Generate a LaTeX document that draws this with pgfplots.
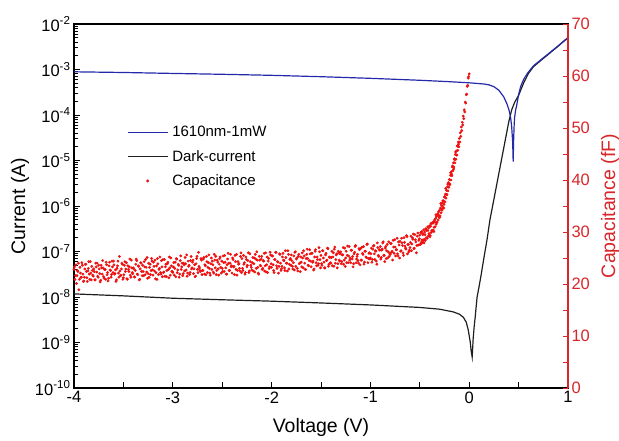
\documentclass[border=0pt]{standalone}
\usepackage{fontspec}
\setmainfont{Liberation Sans}
\usepackage{pgfplots}
\pgfplotsset{compat=1.18}
\definecolor{ivblue}{HTML}{2329A8}
\definecolor{ivdark}{HTML}{1E1E1E}
\definecolor{capred}{HTML}{EE1111}
\definecolor{axred}{HTML}{D8262A}

\begin{document}
\begin{tikzpicture}
\begin{axis}[name=ax,
  width=494pt, height=364pt, scale only axis,
  xmin=-4, xmax=1, ymode=log, ymin=1e-10, ymax=1e-2,
  xtick={-4,-3.5,...,1}, xticklabels={-4,,-3,,-2,,-1,,0,,1},
  ytick={1e-10,1e-9,1e-8,1e-7,1e-6,1e-5,1e-4,1e-3,1e-2},
  yticklabels={10\textsuperscript{-10},10\textsuperscript{-9},10\textsuperscript{-8},10\textsuperscript{-7},
    10\textsuperscript{-6},10\textsuperscript{-5},10\textsuperscript{-4},10\textsuperscript{-3},10\textsuperscript{-2}},
  minor ytick={2e-10,3e-10,4e-10,5e-10,6e-10,7e-10,8e-10,9e-10,
    2e-9,3e-9,4e-9,5e-9,6e-9,7e-9,8e-9,9e-9,
    2e-8,3e-8,4e-8,5e-8,6e-8,7e-8,8e-8,9e-8,
    2e-7,3e-7,4e-7,5e-7,6e-7,7e-7,8e-7,9e-7,
    2e-6,3e-6,4e-6,5e-6,6e-6,7e-6,8e-6,9e-6,
    2e-5,3e-5,4e-5,5e-5,6e-5,7e-5,8e-5,9e-5,
    2e-4,3e-4,4e-4,5e-4,6e-4,7e-4,8e-4,9e-4,
    2e-3,3e-3,4e-3,5e-3,6e-3,7e-3,8e-3,9e-3},
  xtick pos=bottom, ytick pos=left, tick align=inside,
  major tick length=6pt, minor tick length=3.5pt,
  axis line style={line width=1.3pt},
  every tick/.style={black, line width=1pt},
  tick label style={font=\fontsize{16.5}{18}\selectfont},
  xlabel={Voltage (V)}, ylabel={Current (A)},
  every axis x label/.style={at={(axis description cs:0.5,-0.121)}, anchor=base,
    font=\fontsize{19.5}{22}\selectfont},
  every axis y label/.style={at={(axis description cs:-0.109,0.5)}, anchor=center, rotate=90,
    font=\fontsize{19.5}{22}\selectfont},
  legend image code/.code={\draw[#1] (0pt,0pt) -- (40pt,0pt); \path (43pt,0pt);},
  legend cell align=left,
  legend style={at={(axis description cs:0.107,0.722)}, anchor=north west,
    draw=none, fill=none, inner sep=0pt, row sep=10pt,
    font=\fontsize{15}{17}\selectfont, nodes={inner sep=1pt}},
]
\addlegendimage{ivblue, line width=1.2pt}
\addlegendentry{1610nm-1mW}
\addlegendimage{ivdark, line width=1.2pt}
\addlegendentry{Dark-current}
\addlegendimage{legend image code/.code={\fill[capred] (20pt,0pt) circle (1.3pt); \path (43pt,0pt);}}
\addlegendentry{Capacitance}

% dark current
\addplot[ivdark, line width=1.2pt, forget plot] coordinates {
(-4.0,1.17e-8)(-3.5,1.06e-8)(-3.0,9.4e-9)(-2.5,8.7e-9)(-2.0,8.1e-9)(-1.5,7.4e-9)
(-1.0,6.7e-9)(-0.5,5.9e-9)(-0.3,5.4e-9)(-0.16,4.7e-9)(-0.1,4.2e-9)(-0.06,3.6e-9)
(-0.03,2.8e-9)(-0.01,1.9e-9)(0.01,1.05e-9)(0.02,6.5e-10)(0.03,4.8e-10)(0.04,1.2e-9)
(0.05,2.2e-9)(0.06,3.5e-9)(0.07,6e-9)(0.08,1e-8)(0.10,1.7e-8)(0.12,3e-8)(0.15,7.5e-8)
(0.18,1.8e-7)(0.21,5e-7)(0.25,1.4e-6)(0.30,5.2e-6)(0.35,1.9e-5)(0.40,7e-5)(0.43,1.3e-4)
(0.46,1.9e-4)(0.50,2.7e-4)(0.55,5e-4)(0.60,8.2e-4)(0.65,1.15e-3)(0.72,1.55e-3)
(0.80,2.15e-3)(0.85,2.65e-3)(0.90,3.25e-3)(0.95,4.05e-3)(1.0,4.95e-3)
};
% 1610 nm, 1 mW
\addplot[ivblue, line width=1.2pt, forget plot] coordinates {
(-4.0,8.9e-4)(-3.5,8.6e-4)(-3.0,8.2e-4)(-2.5,7.85e-4)(-2.0,7.45e-4)(-1.5,6.95e-4)
(-1.0,6.4e-4)(-0.5,5.8e-4)(-0.2,5.4e-4)(0.0,5.1e-4)(0.1,4.9e-4)(0.15,4.8e-4)(0.2,4.6e-4)
(0.25,4.2e-4)(0.3,3.5e-4)(0.35,2.5e-4)(0.38,1.8e-4)(0.40,1.35e-4)(0.41,1.1e-4)
(0.42,8.5e-5)(0.43,5.5e-5)(0.44,2.5e-5)(0.445,9.5e-6)(0.45,3e-5)(0.455,6e-5)(0.46,9e-5)
(0.47,1.3e-4)(0.48,1.6e-4)(0.50,2.8e-4)(0.52,4.2e-4)(0.55,6e-4)(0.59,8.3e-4)
(0.65,1.2e-3)(0.72,1.6e-3)(0.80,2.2e-3)(0.85,2.7e-3)(0.90,3.3e-3)(0.95,4.1e-3)(1.0,5.0e-3)
};
\end{axis}

\begin{axis}[
  width=494pt, height=364pt, scale only axis,
  xmin=-4, xmax=1, ymin=0, ymax=70,
  axis x line=none, axis y line*=right,
  ytick={0,5,...,70}, yticklabels={0,,10,,20,,30,,40,,50,,60,,70},
  tick align=inside, major tick length=5pt,
  y axis line style={axred, line width=1.3pt, -},
  every tick/.style={axred, line width=1pt},
  yticklabel style={axred, font=\fontsize{16.5}{18}\selectfont},
  ylabel={Capacitance (fF)},
  every axis y label/.style={at={(axis description cs:1.085,0.5)}, anchor=center, rotate=90,
    axred, font=\fontsize{19.5}{22}\selectfont},
]
% capacitance, first sweep of readings
\addplot[capred, only marks, mark=*, mark size=1.2pt, mark options={solid, draw=none, fill=capred}] coordinates {
(-4.00,22.8)(-3.99,20.9)(-3.98,23.7)(-3.97,21.6)(-3.96,22.4)(-3.95,18.9)(-3.94,23.2)(-3.93,21.3)(-3.92,24.1)(-3.91,21.9)
(-3.90,20.6)(-3.89,22.9)(-3.88,23.8)(-3.87,21.2)(-3.86,22.5)(-3.85,24.3)(-3.84,20.9)(-3.83,22.1)(-3.82,23.4)(-3.81,21.7)
(-3.80,22.9)(-3.79,20.8)(-3.78,24.0)(-3.77,22.3)(-3.76,21.5)(-3.75,23.6)(-3.74,22.0)(-3.73,20.7)(-3.72,23.1)(-3.71,24.5)
(-3.70,21.4)(-3.69,22.8)(-3.68,20.9)(-3.67,23.7)(-3.66,22.2)(-3.65,21.1)(-3.64,24.2)(-3.63,22.6)(-3.62,21.8)(-3.61,23.3)
(-3.60,24.4)(-3.59,21.9)(-3.58,22.7)(-3.57,20.8)(-3.56,23.5)(-3.55,22.1)(-3.54,25.3)(-3.53,21.6)(-3.52,22.9)(-3.51,23.8)
(-3.50,21.2)(-3.49,23.6)(-3.48,22.4)(-3.47,24.1)(-3.46,20.9)(-3.45,22.8)(-3.44,23.3)(-3.43,21.7)(-3.42,24.6)(-3.41,22.2)
(-3.40,23.1)(-3.39,21.4)(-3.38,22.6)(-3.37,24.8)(-3.36,21.9)(-3.35,23.5)(-3.34,20.8)(-3.33,22.9)(-3.32,24.0)(-3.31,21.6)
(-3.30,22.4)(-3.29,24.3)(-3.28,21.8)(-3.27,23.2)(-3.26,25.1)(-3.25,22.0)(-3.24,21.3)(-3.23,23.8)(-3.22,22.6)(-3.21,24.4)
(-3.20,21.7)(-3.19,23.4)(-3.18,24.6)(-3.17,22.2)(-3.16,20.9)(-3.15,23.9)(-3.14,22.8)(-3.13,25.2)(-3.12,21.9)(-3.11,23.3)
(-3.10,24.7)(-3.09,22.3)(-3.08,21.5)(-3.07,23.8)(-3.06,22.6)(-3.05,24.2)(-3.04,21.2)(-3.03,23.1)(-3.02,25.0)(-3.01,22.4)
(-3.00,22.2)(-2.99,24.1)(-2.98,23.0)(-2.97,21.4)(-2.96,24.8)(-2.95,22.7)(-2.94,23.6)(-2.93,21.9)(-2.92,25.4)(-2.91,23.3)
(-2.90,21.6)(-2.89,24.0)(-2.88,22.5)(-2.87,23.9)(-2.86,25.6)(-2.85,22.1)(-2.84,23.4)(-2.83,21.8)(-2.82,24.5)(-2.81,22.9)
(-2.80,24.2)(-2.79,22.0)(-2.78,23.7)(-2.77,21.5)(-2.76,24.9)(-2.75,22.8)(-2.74,26.1)(-2.73,23.1)(-2.72,22.4)(-2.71,24.6)
(-2.70,22.6)(-2.69,24.8)(-2.68,21.9)(-2.67,23.5)(-2.66,25.3)(-2.65,22.2)(-2.64,24.1)(-2.63,23.0)(-2.62,21.7)(-2.61,25.0)
(-2.60,24.4)(-2.59,22.3)(-2.58,25.7)(-2.57,23.1)(-2.56,21.8)(-2.55,24.6)(-2.54,22.9)(-2.53,23.8)(-2.52,25.2)(-2.51,22.1)
(-2.50,23.0)(-2.49,25.4)(-2.48,22.4)(-2.47,24.2)(-2.46,21.9)(-2.45,23.7)(-2.44,25.9)(-2.43,22.6)(-2.42,24.0)(-2.41,23.3)
(-2.40,22.1)(-2.39,24.7)(-2.38,23.4)(-2.37,25.5)(-2.36,22.8)(-2.35,21.7)(-2.34,24.3)(-2.33,23.9)(-2.32,22.5)(-2.31,26.0)
(-2.30,24.9)(-2.29,22.6)(-2.28,23.8)(-2.27,21.9)(-2.26,25.2)(-2.25,23.3)(-2.24,24.5)(-2.23,22.2)(-2.22,25.8)(-2.21,23.6)
(-2.20,22.7)(-2.19,25.1)(-2.18,23.9)(-2.17,22.3)(-2.16,24.8)(-2.15,26.2)(-2.14,23.2)(-2.13,21.9)(-2.12,24.6)(-2.11,23.5)
(-2.10,25.3)(-2.09,23.0)(-2.08,24.4)(-2.07,22.5)(-2.06,26.0)(-2.05,23.7)(-2.04,22.2)(-2.03,24.9)(-2.02,23.3)(-2.01,25.6)
(-2.00,23.2)(-1.99,25.4)(-1.98,22.6)(-1.97,24.7)(-1.96,26.1)(-1.95,23.5)(-1.94,24.3)(-1.93,22.1)(-1.92,25.8)(-1.91,24.0)
(-1.90,22.9)(-1.89,25.2)(-1.88,24.6)(-1.87,23.1)(-1.86,26.4)(-1.85,24.0)(-1.84,22.5)(-1.83,25.7)(-1.82,23.8)(-1.81,24.9)
(-1.80,25.6)(-1.79,23.4)(-1.78,24.1)(-1.77,22.7)(-1.76,26.2)(-1.75,24.8)(-1.74,23.0)(-1.73,25.3)(-1.72,23.9)(-1.71,22.4)
(-1.70,24.2)(-1.69,26.0)(-1.68,23.1)(-1.67,25.4)(-1.66,22.8)(-1.65,24.9)(-1.64,26.7)(-1.63,23.6)(-1.62,24.5)(-1.61,25.8)
(-1.60,23.3)(-1.59,25.9)(-1.58,24.4)(-1.57,22.9)(-1.56,26.3)(-1.55,24.1)(-1.54,25.2)(-1.53,23.6)(-1.52,27.0)(-1.51,24.7)
(-1.50,25.5)(-1.49,23.6)(-1.48,26.4)(-1.47,24.2)(-1.46,23.1)(-1.45,25.9)(-1.44,24.6)(-1.43,26.8)(-1.42,23.8)(-1.41,25.1)
(-1.40,24.0)(-1.39,26.3)(-1.38,25.2)(-1.37,23.4)(-1.36,27.1)(-1.35,24.7)(-1.34,25.8)(-1.33,23.9)(-1.32,26.0)(-1.31,24.4)
(-1.30,26.2)(-1.29,24.3)(-1.28,25.6)(-1.27,23.8)(-1.26,26.9)(-1.25,25.0)(-1.24,24.1)(-1.23,27.3)(-1.22,25.4)(-1.21,24.6)
(-1.20,24.1)(-1.19,26.5)(-1.18,25.3)(-1.17,23.9)(-1.16,26.1)(-1.15,27.4)(-1.14,24.8)(-1.13,25.7)(-1.12,24.0)(-1.11,26.6)
(-1.10,26.8)(-1.09,24.6)(-1.08,25.9)(-1.07,27.2)(-1.06,24.2)(-1.05,26.3)(-1.04,25.1)(-1.03,27.7)(-1.02,24.9)(-1.01,26.0)
(-1.00,25.0)(-0.99,26.9)(-0.98,24.7)(-0.97,27.3)(-0.96,25.8)(-0.95,26.4)(-0.94,24.4)(-0.93,27.9)(-0.92,25.5)(-0.91,26.6)
(-0.90,27.2)(-0.89,25.1)(-0.88,26.7)(-0.87,28.1)(-0.86,25.5)(-0.85,26.9)(-0.84,24.9)(-0.83,27.6)(-0.82,26.2)(-0.81,25.3)
(-0.80,25.7)(-0.79,27.8)(-0.78,26.3)(-0.77,28.4)(-0.76,25.9)(-0.75,27.1)(-0.74,26.6)(-0.73,28.8)(-0.72,25.4)(-0.71,27.5)
(-0.70,28.2)(-0.69,26.4)(-0.68,27.9)(-0.67,26.0)(-0.66,28.9)(-0.65,27.3)(-0.64,26.7)(-0.63,29.1)(-0.62,27.6)(-0.61,26.2)
(-0.60,27.0)(-0.59,29.2)(-0.58,27.7)(-0.57,28.6)(-0.56,26.8)(-0.55,29.5)(-0.54,28.1)(-0.53,27.4)(-0.52,29.8)(-0.51,28.4)
(-0.500,29.4)(-0.495,27.6)(-0.490,29.9)(-0.485,28.0)(-0.480,30.1)(-0.475,27.9)(-0.470,29.5)(-0.465,28.3)(-0.460,30.4)(-0.455,28.6)
(-0.450,30.0)(-0.445,28.4)(-0.440,30.6)(-0.435,28.9)(-0.430,30.3)(-0.425,28.8)(-0.420,31.0)(-0.415,29.2)(-0.410,30.8)(-0.405,29.4)
(-0.400,31.2)(-0.395,29.3)(-0.390,31.1)(-0.385,29.9)(-0.380,31.7)(-0.375,30.2)(-0.370,31.8)(-0.365,30.4)(-0.360,32.0)(-0.355,30.9)
(-0.350,32.3)(-0.345,31.0)(-0.340,32.6)(-0.335,31.5)(-0.330,33.0)(-0.325,31.9)(-0.320,33.4)(-0.315,32.3)(-0.310,33.9)(-0.305,32.8)
(-0.300,34.2)(-0.295,33.1)(-0.290,34.6)(-0.285,33.7)(-0.280,35.1)(-0.275,34.2)(-0.270,35.6)(-0.265,34.8)(-0.260,36.0)(-0.255,35.3)
(-0.250,36.7)(-0.245,35.8)(-0.240,37.3)(-0.235,36.5)(-0.230,38.0)(-0.225,37.2)(-0.220,38.7)(-0.215,37.9)(-0.210,39.5)(-0.205,38.6)
(-0.200,40.1)(-0.195,39.2)(-0.190,40.9)(-0.185,40.0)(-0.180,41.6)(-0.175,40.8)(-0.170,42.5)(-0.165,41.8)(-0.160,43.3)(-0.155,42.5)
(-0.150,44.1)(-0.145,43.3)(-0.140,44.9)(-0.135,44.0)(-0.130,45.6)(-0.125,44.8)(-0.120,46.5)(-0.115,45.7)(-0.110,47.3)(-0.105,46.4)
(-0.100,48.0)(-0.095,47.3)(-0.090,49.1)(-0.085,48.4)(-0.080,50.2)(-0.075,49.5)(-0.070,51.1)(-0.065,50.6)(-0.060,52.3)(-0.055,51.8)
(-0.050,53.5)(-0.045,53.1)(-0.040,55.0)(-0.035,54.8)(-0.030,56.4)(-0.025,56.5)(-0.020,58.0)(-0.015,58.2)(-0.010,59.6)(-0.005,59.9)
(0.000,60.4)
};
% capacitance, interleaved readings
\addplot[capred, only marks, mark=*, mark size=1.2pt, mark options={solid, draw=none, fill=capred}] coordinates {
(-3.995,23.3)(-3.985,21.6)(-3.975,20.1)(-3.965,22.6)(-3.955,24.0)(-3.945,20.9)(-3.935,22.1)(-3.925,21.3)(-3.915,23.6)(-3.905,20.5)
(-3.895,21.3)(-3.885,23.8)(-3.875,22.4)(-3.865,20.5)(-3.855,23.0)(-3.845,21.9)(-3.835,24.3)(-3.825,20.8)(-3.815,22.6)(-3.805,21.5)
(-3.795,22.4)(-3.785,20.8)(-3.775,23.3)(-3.765,24.0)(-3.755,21.3)(-3.745,22.9)(-3.735,20.4)(-3.725,23.6)(-3.715,21.9)(-3.705,23.1)
(-3.695,21.1)(-3.685,22.8)(-3.675,24.2)(-3.665,21.8)(-3.655,20.6)(-3.645,23.5)(-3.635,22.7)(-3.625,21.3)(-3.615,24.4)(-3.605,22.2)
(-3.595,23.7)(-3.585,22.0)(-3.575,20.5)(-3.565,23.0)(-3.555,24.4)(-3.545,21.3)(-3.535,22.5)(-3.525,21.7)(-3.515,24.0)(-3.505,20.9)
(-3.495,21.8)(-3.485,24.3)(-3.475,22.9)(-3.465,21.0)(-3.455,23.5)(-3.445,22.4)(-3.435,24.8)(-3.425,21.3)(-3.415,23.1)(-3.405,22.0)
(-3.395,22.9)(-3.385,21.3)(-3.375,23.8)(-3.365,24.5)(-3.355,21.8)(-3.345,23.4)(-3.335,20.9)(-3.325,24.1)(-3.315,22.4)(-3.305,23.6)
(-3.295,21.6)(-3.285,23.3)(-3.275,24.7)(-3.265,22.3)(-3.255,21.1)(-3.245,24.0)(-3.235,23.2)(-3.225,21.8)(-3.215,24.9)(-3.205,22.7)
(-3.195,24.2)(-3.185,22.5)(-3.175,21.0)(-3.165,23.5)(-3.155,24.9)(-3.145,21.8)(-3.135,23.0)(-3.125,22.2)(-3.115,24.5)(-3.105,21.4)
(-3.095,22.2)(-3.085,24.7)(-3.075,23.3)(-3.065,21.4)(-3.055,23.9)(-3.045,22.8)(-3.035,25.2)(-3.025,21.7)(-3.015,23.5)(-3.005,22.4)
(-2.995,23.3)(-2.985,21.7)(-2.975,24.2)(-2.965,24.9)(-2.955,22.2)(-2.945,23.8)(-2.935,21.3)(-2.925,24.5)(-2.915,22.8)(-2.905,24.0)
(-2.895,22.0)(-2.885,23.7)(-2.875,25.1)(-2.865,22.7)(-2.855,21.5)(-2.845,24.4)(-2.835,23.6)(-2.825,22.2)(-2.815,25.3)(-2.805,23.1)
(-2.795,24.6)(-2.785,22.9)(-2.775,21.4)(-2.765,23.9)(-2.755,25.3)(-2.745,22.2)(-2.735,23.4)(-2.725,22.6)(-2.715,24.9)(-2.705,21.8)
(-2.695,22.6)(-2.685,25.1)(-2.675,23.7)(-2.665,21.8)(-2.655,24.3)(-2.645,23.2)(-2.635,25.6)(-2.625,22.1)(-2.615,23.9)(-2.605,22.8)
(-2.595,23.7)(-2.585,22.1)(-2.575,24.6)(-2.565,25.3)(-2.555,22.6)(-2.545,24.2)(-2.535,21.7)(-2.525,24.9)(-2.515,23.2)(-2.505,24.4)
(-2.495,22.4)(-2.485,24.1)(-2.475,25.5)(-2.465,23.1)(-2.455,21.9)(-2.445,24.8)(-2.435,24.0)(-2.425,22.6)(-2.415,25.7)(-2.405,23.5)
(-2.395,25.0)(-2.385,23.3)(-2.375,21.8)(-2.365,24.3)(-2.355,25.7)(-2.345,22.6)(-2.335,23.8)(-2.325,23.0)(-2.315,25.3)(-2.305,22.2)
(-2.295,23.0)(-2.285,25.5)(-2.275,24.1)(-2.265,22.2)(-2.255,24.7)(-2.245,23.6)(-2.235,26.0)(-2.225,22.5)(-2.215,24.3)(-2.205,23.2)
(-2.195,24.1)(-2.185,22.5)(-2.175,25.0)(-2.165,25.7)(-2.155,23.0)(-2.145,24.6)(-2.135,22.1)(-2.125,25.3)(-2.115,23.6)(-2.105,24.8)
(-2.095,22.8)(-2.085,24.5)(-2.075,25.9)(-2.065,23.5)(-2.055,22.3)(-2.045,25.2)(-2.035,24.4)(-2.025,23.0)(-2.015,26.1)(-2.005,23.9)
(-1.995,25.4)(-1.985,23.7)(-1.975,22.2)(-1.965,24.7)(-1.955,26.1)(-1.945,23.0)(-1.935,24.2)(-1.925,23.4)(-1.915,25.7)(-1.905,22.6)
(-1.895,23.4)(-1.885,25.9)(-1.875,24.5)(-1.865,22.6)(-1.855,25.1)(-1.845,24.0)(-1.835,26.4)(-1.825,22.9)(-1.815,24.7)(-1.805,23.6)
(-1.795,24.5)(-1.785,22.9)(-1.775,25.4)(-1.765,26.1)(-1.755,23.4)(-1.745,25.0)(-1.735,22.5)(-1.725,25.7)(-1.715,24.0)(-1.705,25.2)
(-1.695,23.3)(-1.685,25.0)(-1.675,26.4)(-1.665,24.0)(-1.655,22.8)(-1.645,25.7)(-1.635,24.9)(-1.625,23.5)(-1.615,26.6)(-1.605,24.4)
(-1.595,25.9)(-1.585,24.2)(-1.575,22.7)(-1.565,25.2)(-1.555,26.6)(-1.545,23.5)(-1.535,24.7)(-1.525,23.9)(-1.515,26.2)(-1.505,23.1)
(-1.495,23.9)(-1.485,26.4)(-1.475,25.0)(-1.465,23.1)(-1.455,25.6)(-1.445,24.5)(-1.435,26.9)(-1.425,23.4)(-1.415,25.2)(-1.405,24.1)
(-1.395,25.1)(-1.385,23.5)(-1.375,26.0)(-1.365,26.7)(-1.355,24.0)(-1.345,25.6)(-1.335,23.1)(-1.325,26.3)(-1.315,24.6)(-1.305,25.8)
(-1.295,23.9)(-1.285,25.6)(-1.275,27.0)(-1.265,24.6)(-1.255,23.4)(-1.245,26.3)(-1.235,25.5)(-1.225,24.1)(-1.215,27.2)(-1.205,25.0)
(-1.195,26.5)(-1.185,24.8)(-1.175,23.3)(-1.165,25.8)(-1.155,27.2)(-1.145,24.1)(-1.135,25.3)(-1.125,24.5)(-1.115,26.8)(-1.105,23.7)
(-1.095,24.6)(-1.085,27.1)(-1.075,25.7)(-1.065,23.8)(-1.055,26.3)(-1.045,25.2)(-1.035,27.6)(-1.025,24.1)(-1.015,25.9)(-1.005,24.8)
(-0.995,25.8)(-0.985,24.2)(-0.975,26.7)(-0.965,27.4)(-0.955,24.7)(-0.945,26.3)(-0.935,23.8)(-0.925,27.0)(-0.915,25.3)(-0.905,26.5)
(-0.895,24.8)(-0.885,26.5)(-0.875,27.9)(-0.865,25.5)(-0.855,24.3)(-0.845,27.2)(-0.835,26.4)(-0.825,25.0)(-0.815,28.1)(-0.805,25.9)
(-0.795,27.8)(-0.785,26.1)(-0.775,24.6)(-0.765,27.1)(-0.755,28.5)(-0.745,25.4)(-0.735,26.6)(-0.725,25.8)(-0.715,28.1)(-0.705,25.0)
(-0.695,26.3)(-0.685,28.8)(-0.675,27.4)(-0.665,25.5)(-0.655,28.0)(-0.645,26.9)(-0.635,29.3)(-0.625,25.8)(-0.615,27.6)(-0.605,26.5)
(-0.595,28.0)(-0.585,26.4)(-0.575,28.9)(-0.565,29.6)(-0.555,26.9)(-0.545,28.5)(-0.535,26.0)(-0.525,29.2)(-0.515,27.5)(-0.505,28.7)
(-0.4975,27.6)(-0.4875,29.9)(-0.4775,28.5)(-0.4675,29.7)(-0.4575,27.9)(-0.4475,29.5)(-0.4375,30.6)(-0.4275,28.8)(-0.4175,30.3)(-0.4075,29.7)
(-0.3975,29.1)(-0.3875,31.6)(-0.3775,30.3)(-0.3675,31.7)(-0.3575,30.1)(-0.3475,31.9)(-0.3375,33.3)(-0.3275,31.8)(-0.3175,33.5)(-0.3075,33.2)
(-0.2975,32.8)(-0.2875,35.5)(-0.2775,34.4)(-0.2675,36.0)(-0.2575,34.6)(-0.2475,36.8)(-0.2375,38.4)(-0.2275,37.2)(-0.2175,39.2)(-0.2075,39.2)
(-0.1975,39.1)(-0.1875,41.4)(-0.1775,41.1)(-0.1675,42.7)(-0.1575,42.1)(-0.1475,43.9)(-0.1375,45.4)(-0.1275,44.8)(-0.1175,46.6)(-0.1075,46.9)
};
\end{axis}
\pgfresetboundingbox
\path[use as bounding box] ([shift={(-74pt,-52pt)}]ax.south west) rectangle ([shift={(51pt,24pt)}]ax.north east);
\end{tikzpicture}
\end{document}
